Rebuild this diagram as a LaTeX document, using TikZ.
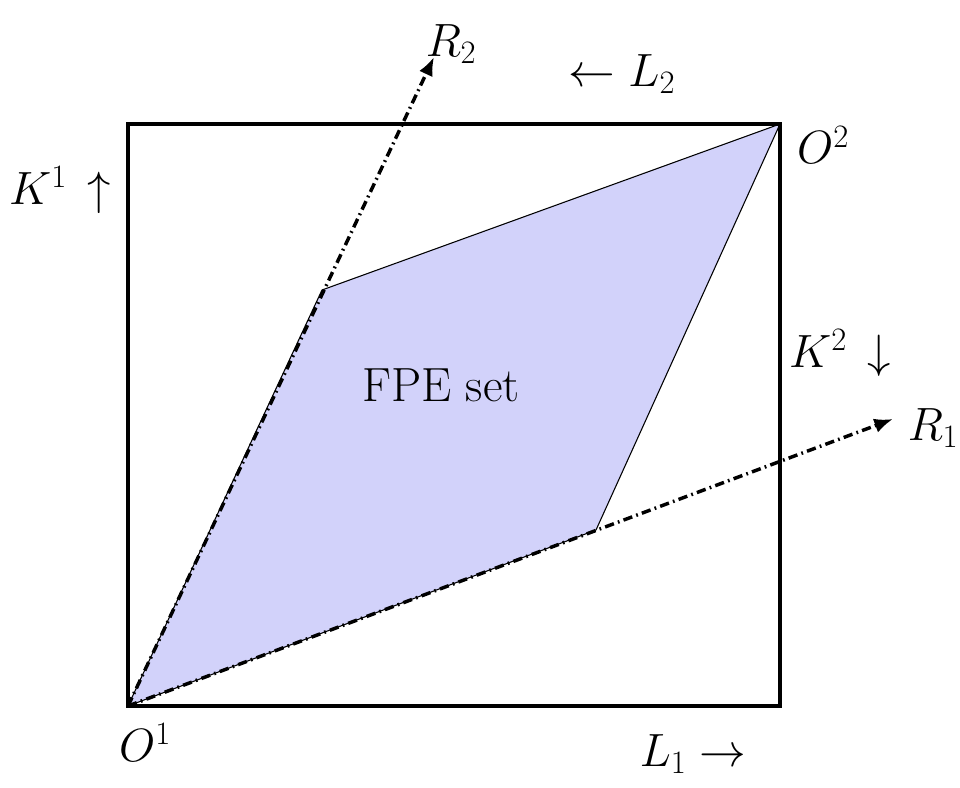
\RequirePackage{fix-cm}
\documentclass[tikz,border=0pt]{standalone}
\usetikzlibrary{arrows.meta}
\definecolor{fpefill}{RGB}{210,210,250}
\begin{document}
\begin{tikzpicture}[x=0.75pt,y=-0.75pt,
  lbl/.style={inner sep=0pt,font=\fontsize{35}{40}\selectfont},
  ray/.style={line width=2.6pt,dash pattern=on 7pt off 3.2pt on 1.3pt off 3.2pt,-{Latex[length=14pt,width=11pt]}},
  boxline/.style={line width=2.4pt}]
\useasboundingbox (0,0) rectangle (960,788);
\coordinate (O1) at (128,706);
\coordinate (O2) at (780,124);
\coordinate (TL) at (128,124);
\coordinate (BR) at (780,706);
\coordinate (A) at (322,290);
\coordinate (B) at (596,530);
\coordinate (R2tip) at (434,57);
\coordinate (R1tip) at (893,419);
\fill[fpefill] (O1) -- (A) -- (O2) -- (B) -- cycle;
\draw[line width=0.8pt] (O1) -- (A) -- (O2) -- (B) -- cycle;
\draw[boxline] (TL) rectangle (BR);
\draw[ray] (O1) -- (R2tip);
\draw[ray] (O1) -- (R1tip);
\node[lbl] (fpe) at (441,385) {\fontsize{36}{40}\selectfont FPE set};
\node[lbl] (r2) at (451,44) {$R_2$};
\node[lbl] (l2) at (622,74) {$\leftarrow L_2$};
\node[lbl] (k1) at (60,190) {$K^1\,\uparrow$};
\node[lbl] (o2) at (823,145) {$O^2$};
\node[lbl] (k2) at (840,353) {$K^2\,\downarrow$};
\node[lbl] (r1) at (933,428) {$R_1$};
\node[lbl] (o1) at (145,742) {$O^1$};
\node[lbl] (l1) at (693,754) {$L_1\rightarrow$};
\end{tikzpicture}
\end{document}
